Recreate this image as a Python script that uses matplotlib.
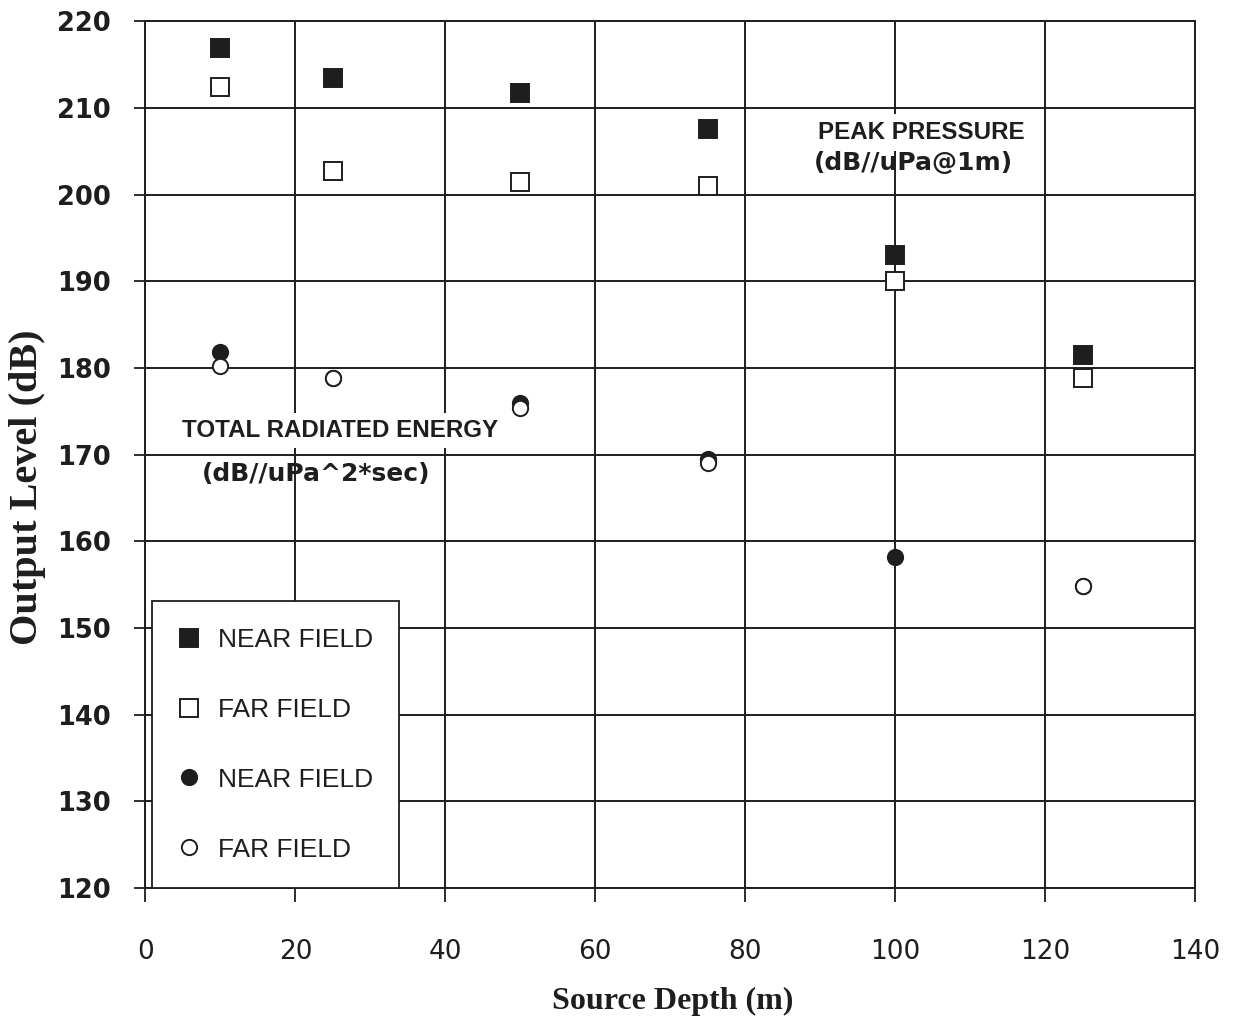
import numpy as np
import matplotlib
matplotlib.use('Agg')
import matplotlib.pyplot as plt
from matplotlib.lines import Line2D

# Source depth (m) of each shot
depth = [10, 25, 50, 75, 100, 125]

# Peak pressure (dB//uPa@1m)
peak_near = [216.9, 213.5, 211.8, 207.6, 193.0, 181.5]
peak_far = [212.4, 202.8, 201.5, 201.0, 190.0, 178.9]

# Total radiated energy (dB//uPa^2*sec)
energy_near = [181.8, 178.8, 176.0, 169.5, 158.2, 154.8]
energy_far_depth = [10, 25, 50, 75, 125]
energy_far = [180.2, 178.8, 175.4, 169.0, 154.8]

x_ticks = [0, 20, 40, 60, 80, 100, 120, 140]
y_ticks = [120, 130, 140, 150, 160, 170, 180, 190, 200, 210, 220]
legend_labels = ['NEAR FIELD', 'FAR FIELD', 'NEAR FIELD', 'FAR FIELD']

ink = '#1e1e1e'
sq_size = 12.5
ci_size = 11
mew = 1.4

fig = plt.figure(figsize=(12.39, 10.23), dpi=100)
ax = fig.add_axes([0.1174, 0.1320, 0.8471, 0.8470])

ax.set_xlim(0, 140)
ax.set_ylim(120, 220)
ax.set_xticks(x_ticks)
ax.set_yticks(y_ticks)
ax.grid(True, color=ink, linewidth=1.4)
ax.set_axisbelow(True)
for sp in ax.spines.values():
    sp.set_color(ink)
    sp.set_linewidth(1.4)

ax.tick_params(axis='y', direction='out', length=8, width=1.3, color=ink, pad=17)
ax.tick_params(axis='x', direction='out', length=10, width=1.3, color=ink, pad=27)
for lab in ax.get_yticklabels():
    lab.set_fontfamily('DejaVu Sans')
    lab.set_fontweight('bold')
    lab.set_fontsize(18.5)
    lab.set_color(ink)
for lab in ax.get_xticklabels():
    lab.set_fontfamily('DejaVu Sans')
    lab.set_fontsize(19)
    lab.set_color(ink)

# near field drawn first so the open far-field markers sit on top
ax.plot(depth, peak_near, ls='none', marker='s', ms=sq_size, mfc=ink, mec=ink, mew=mew, zorder=3)
ax.plot(depth, peak_far, ls='none', marker='s', ms=sq_size, mfc='white', mec=ink, mew=mew, zorder=4)
ax.plot(depth, energy_near, ls='none', marker='o', ms=ci_size, mfc=ink, mec=ink, mew=mew, zorder=3)
ax.plot(energy_far_depth, energy_far, ls='none', marker='o', ms=ci_size, mfc='white', mec=ink, mew=mew, zorder=4)

# series annotations
ax.text(103.5, 207.2, 'PEAK PRESSURE', ha='center', va='center', fontsize=17.4,
        fontweight='bold', family='Liberation Sans', color=ink, zorder=2.5,
        bbox=dict(facecolor='white', edgecolor='none', pad=5))
ax.text(102.5, 203.7, '(dB//uPa@1m)', ha='center', va='center', fontsize=18,
        fontweight='bold', family='DejaVu Sans', color=ink, zorder=2.5)
ax.text(25.9, 172.8, 'TOTAL RADIATED ENERGY', ha='center', va='center', fontsize=17.4,
        fontweight='bold', family='Liberation Sans', color=ink, zorder=2.5,
        bbox=dict(facecolor='white', edgecolor='none', pad=4))
ax.text(22.7, 167.8, '(dB//uPa^2*sec)', ha='center', va='center', fontsize=18,
        fontweight='bold', family='DejaVu Sans', color=ink, zorder=2.5)

handles = [
    Line2D([], [], ls='none', marker='s', ms=sq_size, mfc=ink, mec=ink, mew=mew),
    Line2D([], [], ls='none', marker='s', ms=sq_size, mfc='white', mec=ink, mew=mew),
    Line2D([], [], ls='none', marker='o', ms=ci_size, mfc=ink, mec=ink, mew=mew),
    Line2D([], [], ls='none', marker='o', ms=ci_size, mfc='white', mec=ink, mew=mew),
]
leg = ax.legend(handles, legend_labels, loc='lower left', bbox_to_anchor=(0.0067, 0.0),
                borderaxespad=0, frameon=True, fancybox=False, framealpha=1,
                edgecolor=ink, prop={'family': 'Liberation Sans', 'size': 19},
                handlelength=0.8, handletextpad=0.68, borderpad=1.0, labelspacing=1.74)
leg.get_frame().set_linewidth(1.3)
for t in leg.get_texts():
    t.set_color(ink)
leg.set_zorder(5)

fig.text(28 / 1239, 1 - 487 / 1023, 'Output Level (dB)', rotation=90, ha='center', va='center',
         fontsize=29, fontweight='bold', family='Liberation Serif', color=ink)
fig.text(673 / 1239, 1 - 1001 / 1023, 'Source Depth (m)', ha='center', va='center',
         fontsize=23, fontweight='bold', family='Liberation Serif', color=ink)

fig.savefig('out.png', dpi=100, facecolor='white')
